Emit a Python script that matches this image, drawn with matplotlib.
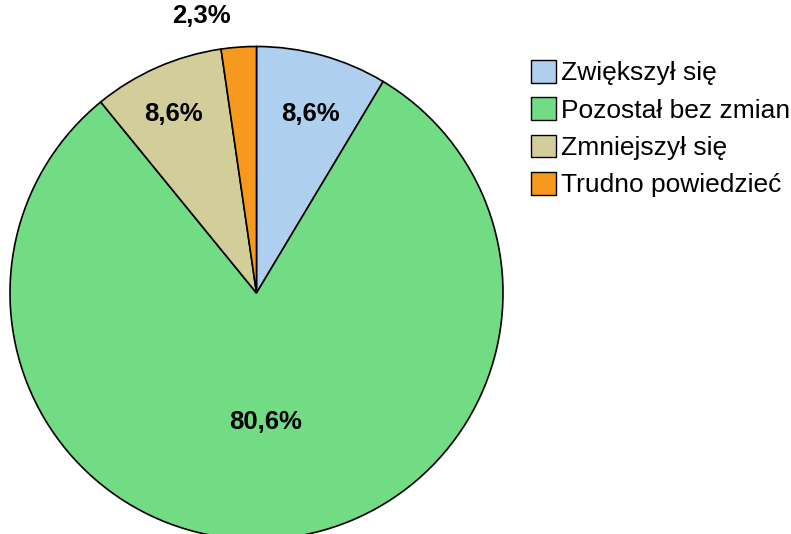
import numpy as np
import matplotlib
matplotlib.use("Agg")
import matplotlib.pyplot as plt

categories = ["Zwiększył się", "Pozostał bez zmian", "Zmniejszył się", "Trudno powiedzieć"]
values = [8.6, 80.6, 8.6, 2.3]
labels = ["8,6%", "80,6%", "8,6%", "2,3%"]
colors = ["#AED0EE", "#72DC85", "#D3CD99", "#F7991F"]

plt.rcParams['font.family'] = ['Liberation Sans', 'DejaVu Sans']

W, H = 791, 534
fig = plt.figure(figsize=(W / 100, H / 100), dpi=100)
cx, cy, r = 256.5, 293, 246.5
ax = fig.add_axes([(cx - r) / W, (H - cy - r) / H, 2 * r / W, 2 * r / H])

wedges, _ = ax.pie(values, colors=colors, startangle=90, counterclock=False,
                   wedgeprops=dict(edgecolor="black", linewidth=1.2))
ax.set_xlim(-1, 1)
ax.set_ylim(-1, 1)
ax.set_aspect("equal")
ax.axis("off")

# label placement (distance from centre, angle offset in degrees)
dists = [0.765, 0.52, 0.805, 1.15]
offsets = [-1.0, 0, 1.0, 7.0]
shift = -0.006
for w, lab, d, off in zip(wedges, labels, dists, offsets):
    ang = np.deg2rad((w.theta1 + w.theta2) / 2 + off)
    ax.text(d * np.cos(ang), d * np.sin(ang) + shift, lab, ha="center", va="center",
            fontsize=18.5, fontweight="bold", clip_on=False)

leg = fig.legend(wedges, categories, loc="upper left",
                 bbox_to_anchor=(531 / W, 1 - 60 / H), frameon=False,
                 fontsize=19, handlelength=0.95, handleheight=0.95,
                 handletextpad=0.2, labelspacing=0.45, borderpad=0,
                 borderaxespad=0)
for h in leg.legend_handles:
    h.set_edgecolor("black")
    h.set_linewidth(1.0)

fig.savefig("out.png", dpi=100)
